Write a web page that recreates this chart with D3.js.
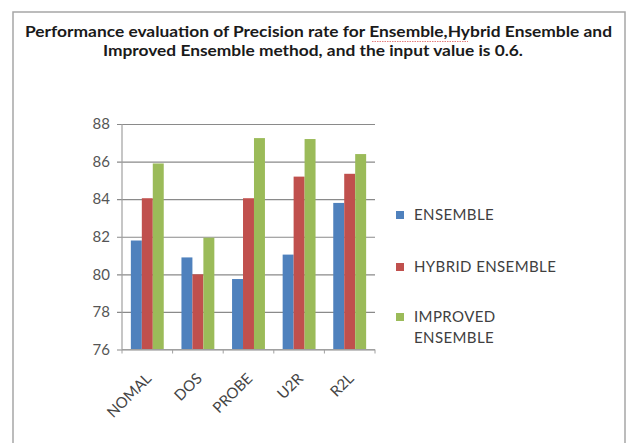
<!DOCTYPE html>
<html>
<head>
<meta charset="utf-8">
<script src="https://cdn.jsdelivr.net/npm/d3@7"></script>
<style>
  html, body { margin: 0; padding: 0; background: #fff; }
  svg { display: block; font-family: Lato, "Open Sans", sans-serif; }
</style>
</head>
<body>
<svg id="chart" width="627" height="443"></svg>
<script>
// Precision rate per attack category, input value 0.6
const categories = ["NOMAL", "DOS", "PROBE", "U2R", "R2L"];
const seriesNames = ["ENSEMBLE", "HYBRID ENSEMBLE", "IMPROVED ENSEMBLE"];
const ensemble = [81.8, 80.9, 79.75, 81.05, 83.8];
const hybridEnsemble = [84.05, 80.0, 84.05, 85.2, 85.35];
const improvedEnsemble = [85.9, 81.95, 87.25, 87.2, 86.4];
const yTicks = [76, 78, 80, 82, 84, 86, 88];
const colors = ["#4F81BD", "#C0504D", "#9BBB59"];
const titleLines = [
  "Performance evaluation of Precision rate for Ensemble,Hybrid Ensemble and",
  "Improved Ensemble method, and the input value is 0.6."
];

const series = [ensemble, hybridEnsemble, improvedEnsemble];
const svg = d3.select("#chart");

// outer chart frame
svg.append("rect")
  .attr("x", 13).attr("y", 12).attr("width", 612).attr("height", 445)
  .attr("fill", "#fff").attr("stroke", "#a6a6a6").attr("stroke-width", 1.5);

// title
const title = svg.append("g").attr("font-weight", "bold").attr("fill", "#1a1a1a")
  .attr("font-size", 14.5).attr("text-anchor", "middle");
title.append("text").attr("x", 318.5).attr("y", 37).text(titleLines[0])
  .attr("textLength", 587).attr("lengthAdjust", "spacingAndGlyphs");
title.append("text").attr("x", 313).attr("y", 56).text(titleLines[1])
  .attr("textLength", 420).attr("lengthAdjust", "spacingAndGlyphs");
// spell-check squiggle under "Ensemble,Hybrid"
svg.append("line").attr("x1", 372).attr("x2", 468).attr("y1", 41.5).attr("y2", 41.5)
  .attr("stroke", "#e06060").attr("stroke-width", 0.8).attr("stroke-dasharray", "1.5,1");

// plot area
const plot = { left: 122, right: 375, top: 124, bottom: 349.5 };

const x0 = d3.scaleBand().domain(categories)
  .range([plot.left, plot.right]).paddingInner(0.35).paddingOuter(0.175);
const x1 = d3.scaleBand().domain(d3.range(series.length))
  .range([0, x0.bandwidth()]);
const y = d3.scaleLinear().domain([76, 88]).range([plot.bottom, plot.top]);

// horizontal gridlines with short outer ticks
svg.append("g")
  .attr("transform", `translate(${plot.left},0)`)
  .call(d3.axisLeft(y).tickValues(yTicks).tickSize(-(plot.right - plot.left)).tickSizeOuter(0).tickPadding(12))
  .call(g => g.select(".domain").remove())
  .call(g => g.selectAll(".tick line").attr("x1", -5).attr("stroke", "#8a8a8a").attr("stroke-width", 1.2))
  .call(g => g.selectAll(".tick text").attr("font-size", 15).attr("fill", "#555").attr("font-family", "Lato, sans-serif"));

// bars
const groups = svg.append("g").selectAll("g")
  .data(categories)
  .join("g")
  .attr("transform", d => `translate(${x0(d)},0)`);

groups.selectAll("rect")
  .data((d, i) => series.map((s, k) => ({ k, v: s[i] })))
  .join("rect")
  .attr("x", d => x1(d.k))
  .attr("width", x1.bandwidth())
  .attr("y", d => y(d.v))
  .attr("height", d => y(76) - y(d.v))
  .attr("fill", d => colors[d.k]);

// vertical axis line
svg.append("line")
  .attr("x1", plot.left).attr("x2", plot.left)
  .attr("y1", plot.top).attr("y2", plot.bottom)
  .attr("stroke", "#a0a0a0").attr("stroke-width", 1.2);

// category axis with boundary ticks
const xAxis = svg.append("g").attr("transform", `translate(0,${plot.bottom})`);
xAxis.append("line").attr("x1", plot.left).attr("x2", plot.right)
  .attr("stroke", "#a0a0a0").attr("stroke-width", 1.2);
const step = (plot.right - plot.left) / categories.length;
xAxis.selectAll(".bound")
  .data(d3.range(categories.length + 1))
  .join("line")
  .attr("x1", i => plot.left + i * step).attr("x2", i => plot.left + i * step)
  .attr("y1", 0).attr("y2", 4)
  .attr("stroke", "#a0a0a0");

xAxis.selectAll("text")
  .data(categories)
  .join("text")
  .attr("transform", d => `translate(${x0(d) + x0.bandwidth() / 2 + 5},${30}) rotate(-45)`)
  .attr("text-anchor", "end")
  .attr("font-size", 15)
  .attr("fill", "#444")
  .text(d => d);

// legend
const legendRows = [
  { name: ["ENSEMBLE"], y: 215 },
  { name: ["HYBRID ENSEMBLE"], y: 267 },
  { name: ["IMPROVED", "ENSEMBLE"], y: 317 }
];
const legend = svg.append("g");
legendRows.forEach((row, i) => {
  legend.append("rect")
    .attr("x", 396).attr("y", row.y - 4).attr("width", 8).attr("height", 8)
    .attr("fill", colors[i]);
  row.name.forEach((line, j) => {
    legend.append("text")
      .attr("x", 414).attr("y", row.y + 5 + j * 21)
      .attr("font-size", 15).attr("letter-spacing", 0.4).attr("fill", "#404040")
      .text(line);
  });
});
</script>
</body>
</html>
